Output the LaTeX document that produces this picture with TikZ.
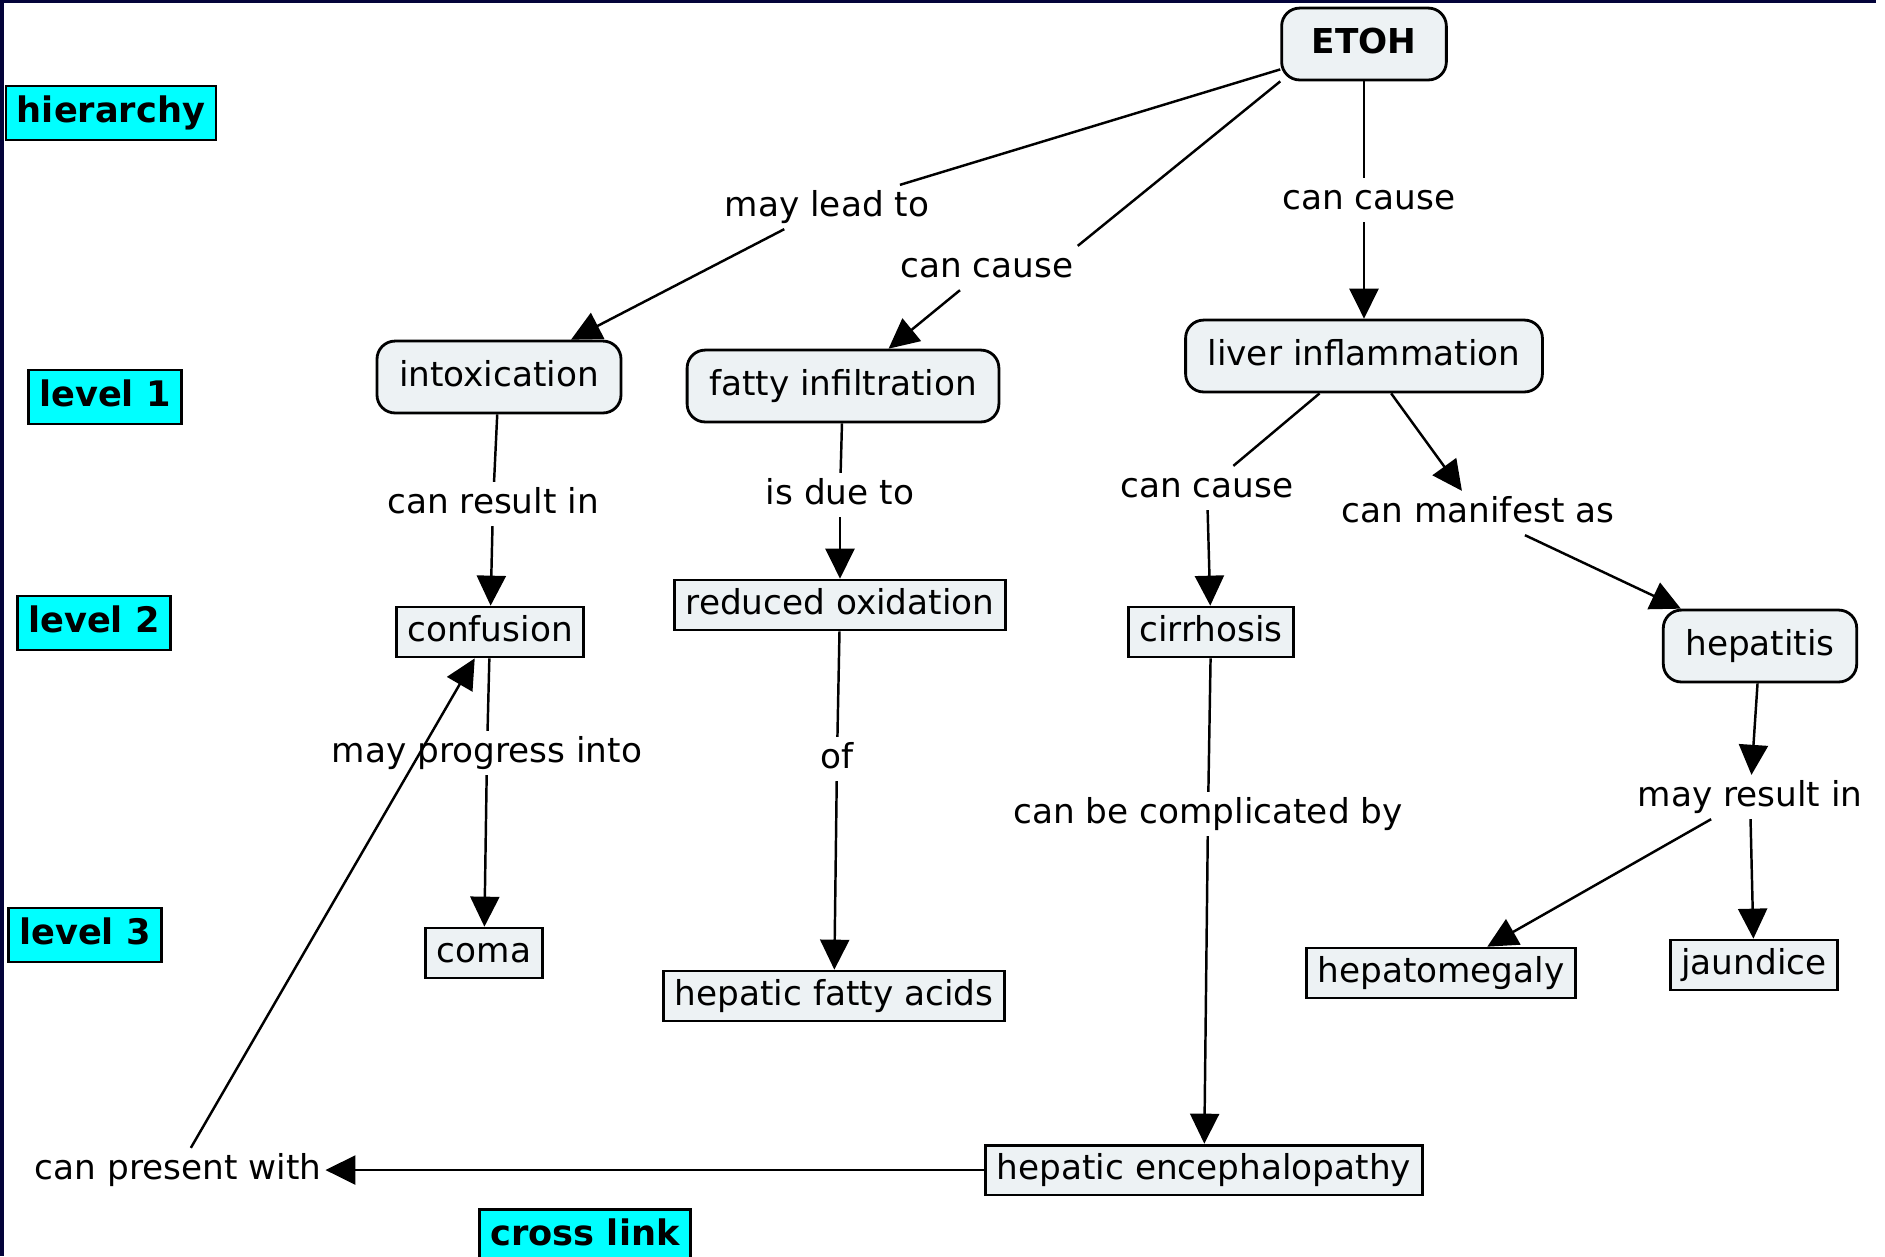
\documentclass[tikz,border=0pt]{standalone}
\usepackage{fontspec}
\setmainfont{DejaVu Sans}
\usetikzlibrary{arrows.meta}

\definecolor{boxfill}{HTML}{EDF2F4}
\definecolor{framenavy}{HTML}{03033A}
\definecolor{legendcyan}{HTML}{00FFFF}

\tikzset{
  concept/.style={draw, line width=0.8pt, fill=boxfill, rounded corners=0.18cm,
    inner xsep=0.22cm, inner ysep=0.18cm},
  plainbox/.style={draw, line width=0.8pt, fill=boxfill, inner xsep=0.11cm, inner ysep=0.07cm},
  legendbox/.style={draw, line width=0.8pt, fill=legendcyan, font=\bfseries,
    inner xsep=0.11cm, inner ysep=0.09cm},
  linkword/.style={inner sep=1pt},
  link/.style={line width=0.7pt},
  arrowlink/.style={link, -{Triangle[length=0.3cm, width=0.29cm]}}
}

\begin{document}
\begin{tikzpicture}[x=0.01cm, y=-0.01cm,
    every node/.style={font=\fontsize{9.75}{11.7}\selectfont, text height=0.78em, text depth=0.24em}]
  % page and frame
  \useasboundingbox (0,0) rectangle (1885,1256);
  \fill[white] (0,0) rectangle (1885,1256);
  \fill[framenavy] (0,0) rectangle (1876,2.5);
  \fill[framenavy] (0,0) rectangle (4,1256);

  % legend
  \node[legendbox] (hier) at (111,113) {hierarchy};
  \node[legendbox] (lvl1) at (105,397) {level 1};
  \node[legendbox] (lvl2) at (94,623) {level 2};
  \node[legendbox] (lvl3) at (85,935) {level 3};
  \node[legendbox] (xlink) at (585,1236) {cross link};

  % concepts
  \node[concept, inner xsep=0.3cm, font=\fontsize{9.75}{11.7}\selectfont\bfseries] (etoh) at (1364,44) {ETOH};
  \node[concept] (intox) at (499,377) {intoxication};
  \node[concept] (fatty) at (843,386) {fatty infiltration};
  \node[concept] (liver) at (1364,356) {liver inflammation};
  \node[concept] (hepatitis) at (1760,646) {hepatitis};
  \node[plainbox] (confusion) at (490,632) {confusion};
  \node[plainbox] (oxid) at (840,605) {reduced oxidation};
  \node[plainbox] (cirrhosis) at (1211,632) {cirrhosis};
  \node[plainbox] (coma) at (484,953) {coma};
  \node[plainbox] (acids) at (834,996) {hepatic fatty acids};
  \node[plainbox] (megaly) at (1441,973) {hepatomegaly};
  \node[plainbox] (jaundice) at (1754,965) {jaundice};
  \node[plainbox] (enceph) at (1204,1170) {hepatic encephalopathy};

  % linking words
  \node[linkword] (leadto) at (827,207) {may lead to};
  \node[linkword] (causefat) at (987,268) {can cause};
  \node[linkword] (causeinf) at (1369,200) {can cause};
  \node[linkword] (resultin) at (493,504) {can result in};
  \node[linkword] (dueto) at (840,495) {is due to};
  \node[linkword] (causecir) at (1207,488) {can cause};
  \node[linkword] (manifest) at (1478,513) {can manifest as};
  \node[linkword] (progress) at (487,753) {may progress into};
  \node[linkword] (of) at (837,759) {of};
  \node[linkword] (complic) at (1208,814) {can be complicated by};
  \node[linkword] (mayresult) at (1750,797) {may result in};
  \node[linkword] (present) at (178,1170) {can present with};

  % connectors
  \draw[link] (etoh) -- (leadto);
  \draw[arrowlink] (leadto) -- (intox);
  \draw[link] (etoh.south west) -- (causefat.north east);
  \draw[arrowlink] (causefat) -- (fatty);
  \draw[link] (etoh) -- (etoh |- causeinf.north);
  \draw[arrowlink] (etoh |- causeinf.south) -- (liver);
  \draw[link] (intox) -- (resultin);
  \draw[arrowlink] (resultin) -- (confusion);
  \draw[link] (fatty) -- (dueto);
  \draw[arrowlink] (dueto) -- (oxid);
  \draw[link] (liver) -- (causecir);
  \draw[arrowlink] (causecir) -- (cirrhosis);
  \draw[arrowlink] (liver) -- (manifest);
  \draw[arrowlink] (manifest) -- (hepatitis);
  \draw[link] (confusion) -- (progress);
  \draw[arrowlink] (progress) -- (coma);
  \draw[link] (oxid) -- (of);
  \draw[arrowlink] (of) -- (acids);
  \draw[link] (cirrhosis) -- (complic);
  \draw[arrowlink] (complic) -- (enceph);
  \draw[arrowlink] (hepatitis) -- (mayresult);
  \draw[arrowlink] (mayresult) -- (megaly);
  \draw[arrowlink] (mayresult) -- (jaundice);
  \draw[arrowlink] (enceph) -- (present);
  \draw[arrowlink] (present) -- (confusion);
\end{tikzpicture}
\end{document}
